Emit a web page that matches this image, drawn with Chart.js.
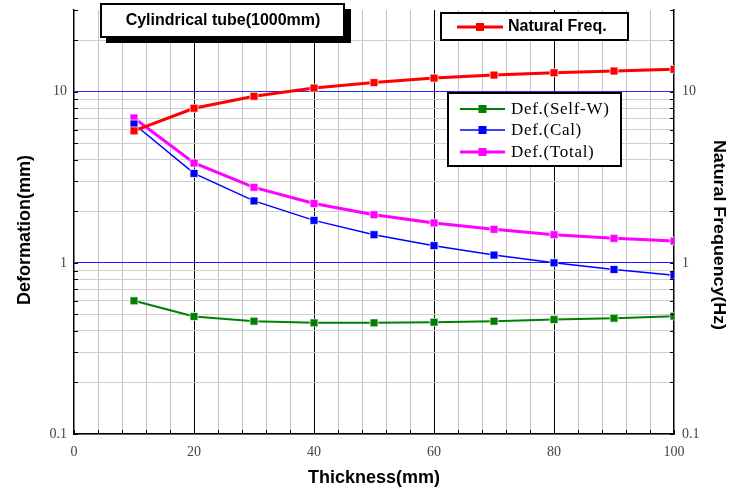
<!DOCTYPE html>
<html>
<head>
<meta charset="utf-8">
<script src="https://cdn.jsdelivr.net/npm/chart.js@4/dist/chart.umd.min.js"></script>
<style>
  html, body { margin: 0; padding: 0; background: #fff; }
  #wrap { width: 735px; height: 491px; position: relative; }
</style>
</head>
<body>
<div id="wrap"><canvas id="c" width="735" height="491"></canvas></div>
<script>
// ---- data ----
const thickness = [10, 20, 30, 40, 50, 60, 70, 80, 90, 100];
const naturalFreq = [5.9, 8.0, 9.4, 10.5, 11.3, 12.0, 12.5, 12.9, 13.2, 13.5];
const defSelfW = [0.60, 0.486, 0.456, 0.446, 0.446, 0.45, 0.456, 0.466, 0.475, 0.488];
const defCal = [6.47, 3.33, 2.30, 1.77, 1.46, 1.26, 1.11, 1.00, 0.914, 0.847];
const defTotal = [7.02, 3.83, 2.76, 2.22, 1.91, 1.71, 1.57, 1.46, 1.39, 1.34];
const yTickLabels = [0.1, 1, 10];
const xTickLabels = [0, 20, 40, 60, 80, 100];
const chartTitle = 'Cylindrical tube(1000mm)';
const xTitle = 'Thickness(mm)';
const yTitle = 'Deformation(mm)';
const y2Title = 'Natural Frequency(Hz)';

const pts = (vals) => thickness.map((x, i) => ({ x: x, y: vals[i] }));

function isLabelY(v) { return yTickLabels.some(t => Math.abs(v - t) < t * 1e-6); }
// keep only 1..9 x 10^n log ticks (drop 1.5, 15, ...)
function isWholeMantissa(v) {
  const m = v / Math.pow(10, Math.floor(Math.log10(v) + 1e-9));
  return Math.abs(m - Math.round(m)) < 1e-6;
}
const keepLogTicks = (s) => { s.ticks = s.ticks.filter(t => isWholeMantissa(t.value)); };

const SERIF = '"Liberation Serif", "DejaVu Serif", serif';
const SANS = '"Liberation Sans", Arial, sans-serif';

function ds(label, vals, color, width, axis) {
  return {
    label: label, data: pts(vals), yAxisID: axis,
    borderColor: color, backgroundColor: color, borderWidth: width,
    pointStyle: 'rect', pointRadius: 5.6, pointHoverRadius: 5.6,
    pointBackgroundColor: color, pointBorderColor: 'rgba(255,255,255,0.7)', pointBorderWidth: 1,
    tension: 0, fill: false
  };
}

const zeroPad = (s) => { s.paddingTop = 0; s.paddingBottom = 0; s.paddingLeft = 0; s.paddingRight = 0; };

const decoPlugin = {
  id: 'deco',
  afterDraw(chart) {
    const ctx = chart.ctx;
    const a = chart.chartArea;
    const xs = chart.scales.x, ys = chart.scales.y;
    ctx.save();
    // inner tick marks
    ctx.strokeStyle = '#000'; ctx.lineWidth = 1;
    ctx.beginPath();
    ys.ticks.forEach(t => {
      if (t.value >= 29) return;
      const py = Math.round(ys.getPixelForValue(t.value)) + 0.5;
      ctx.moveTo(a.left, py); ctx.lineTo(a.left + 4, py);
      ctx.moveTo(a.right, py); ctx.lineTo(a.right - 4, py);
    });
    xs.ticks.forEach(t => {
      const px = Math.round(xs.getPixelForValue(t.value)) + 0.5;
      ctx.moveTo(px, a.bottom); ctx.lineTo(px, a.bottom - 4);
    });
    ctx.moveTo(a.left, a.top + 0.5); ctx.lineTo(a.left + 4, a.top + 0.5);
    ctx.moveTo(a.right, a.top + 0.5); ctx.lineTo(a.right - 4, a.top + 0.5);
    ctx.stroke();

    // axis titles
    ctx.fillStyle = '#000';
    ctx.textAlign = 'center'; ctx.textBaseline = 'middle';
    ctx.font = 'bold 18px ' + SANS;
    ctx.fillText(xTitle, 374, 478);
    ctx.save();
    ctx.translate(25, 230); ctx.rotate(-Math.PI / 2);
    ctx.fillText(yTitle, 0, 0);
    ctx.restore();
    ctx.save();
    ctx.font = 'bold 17px ' + SANS;
    const w = ctx.measureText(y2Title).width;
    ctx.translate(719, 235); ctx.rotate(Math.PI / 2);
    ctx.scale(190 / w, 1);
    ctx.fillText(y2Title, 0, 0);
    ctx.restore();

    // chart title box with shadow
    ctx.fillStyle = '#000';
    ctx.fillRect(106, 9, 245, 34);
    ctx.fillStyle = '#fff';
    ctx.fillRect(100, 3, 245, 35);
    ctx.strokeStyle = '#000'; ctx.lineWidth = 2;
    ctx.strokeRect(101, 4, 243, 33);
    ctx.fillStyle = '#000';
    ctx.font = 'bold 16px ' + SANS;
    ctx.fillText(chartTitle, 223, 21);

    const drawMarker = (x, y, color) => {
      ctx.fillStyle = color;
      ctx.fillRect(x - 4, y - 4, 8, 8);
    };
    const drawEntry = (d, x1, x2, y) => {
      ctx.strokeStyle = d.borderColor; ctx.lineWidth = d.borderWidth;
      ctx.beginPath(); ctx.moveTo(x1, y); ctx.lineTo(x2, y); ctx.stroke();
      drawMarker((x1 + x2) / 2, y, d.borderColor);
    };
    const dsets = chart.data.datasets;

    // Natural Freq legend
    ctx.fillStyle = '#fff';
    ctx.fillRect(440, 12, 189, 29);
    ctx.strokeStyle = '#000'; ctx.lineWidth = 2;
    ctx.strokeRect(441, 13, 187, 27);
    drawEntry(dsets[0], 457, 503, 27);
    ctx.fillStyle = '#000';
    ctx.textAlign = 'left';
    ctx.font = 'bold 16px ' + SANS;
    ctx.fillText(dsets[0].label, 508, 27);

    // Deformation legend
    ctx.fillStyle = '#fff';
    ctx.fillRect(447, 92, 175, 75);
    ctx.strokeStyle = '#000'; ctx.lineWidth = 2;
    ctx.strokeRect(448, 93, 173, 73);
    const rows = [109, 130, 152];
    ctx.font = '17px ' + SERIF;
    if ('letterSpacing' in ctx) ctx.letterSpacing = '0.7px';
    [1, 2, 3].forEach((k, i) => {
      drawEntry(dsets[k], 460, 505, rows[i]);
      ctx.fillStyle = '#000';
      ctx.fillText(dsets[k].label, 511, rows[i] + 1);
    });
    ctx.restore();
  }
};

const yGridColor = (c) => {
  const v = c.tick ? c.tick.value : null;
  if (v == null) return 'rgba(0,0,0,0)';
  if (v >= 29) return 'rgba(0,0,0,0)';
  if (Math.abs(v - 10) < 1e-3) return '#2a2aff';
  if (Math.abs(v - 1) < 1e-4) return '#1a1aff';
  return '#cfcfcf';
};

new Chart(document.getElementById('c'), {
  type: 'line',
  data: {
    datasets: [
      ds('Natural Freq.', naturalFreq, '#ff0000', 3, 'y2'),
      ds('Def.(Self-W)', defSelfW, '#008000', 2, 'y'),
      ds('Def.(Cal)', defCal, '#0000ff', 1.5, 'y'),
      ds('Def.(Total)', defTotal, '#ff00ff', 3, 'y')
    ]
  },
  options: {
    responsive: false,
    animation: false,
    events: [],
    layout: { padding: { top: 10, left: 0, right: 0, bottom: 0 } },
    plugins: { legend: { display: false }, title: { display: false }, tooltip: { enabled: false } },
    scales: {
      x: {
        type: 'linear', min: 0, max: 100,
        afterFit: (s) => { s.height = 57; zeroPad(s); },
        border: { display: true, color: '#000', width: 1.5 },
        grid: {
          drawTicks: false,
          color: (c) => {
            const v = c.tick ? c.tick.value : 0;
            if (v === 0 || v === 100) return 'rgba(0,0,0,0)';
            return (v % 20 === 0) ? '#000' : '#c4c4c4';
          }
        },
        ticks: {
          stepSize: 4, autoSkip: false, maxRotation: 0, padding: 10,
          color: '#444', font: { family: SERIF, size: 14 },
          callback: (v) => xTickLabels.includes(v) ? String(v) : ''
        }
      },
      y: {
        type: 'logarithmic', position: 'left', min: 0.1, max: 30,
        afterBuildTicks: keepLogTicks,
        afterFit: (s) => { s.width = 74; zeroPad(s); },
        border: { display: true, color: '#000', width: 1.5 },
        grid: { drawTicks: false, color: yGridColor },
        ticks: {
          autoSkip: false, padding: 7, color: '#444', font: { family: SERIF, size: 14 },
          callback: (v) => isLabelY(v) ? String(v) : ''
        }
      },
      y2: {
        type: 'logarithmic', position: 'right', min: 0.1, max: 30,
        afterBuildTicks: keepLogTicks,
        afterFit: (s) => { s.width = 61; zeroPad(s); },
        border: { display: true, color: '#000', width: 1.5 },
        grid: { drawTicks: false, drawOnChartArea: false },
        ticks: {
          autoSkip: false, padding: 8, color: '#444', font: { family: SERIF, size: 14 },
          callback: (v) => isLabelY(v) ? String(v) : ''
        }
      }
    }
  },
  plugins: [decoPlugin]
});
</script>
</body>
</html>
